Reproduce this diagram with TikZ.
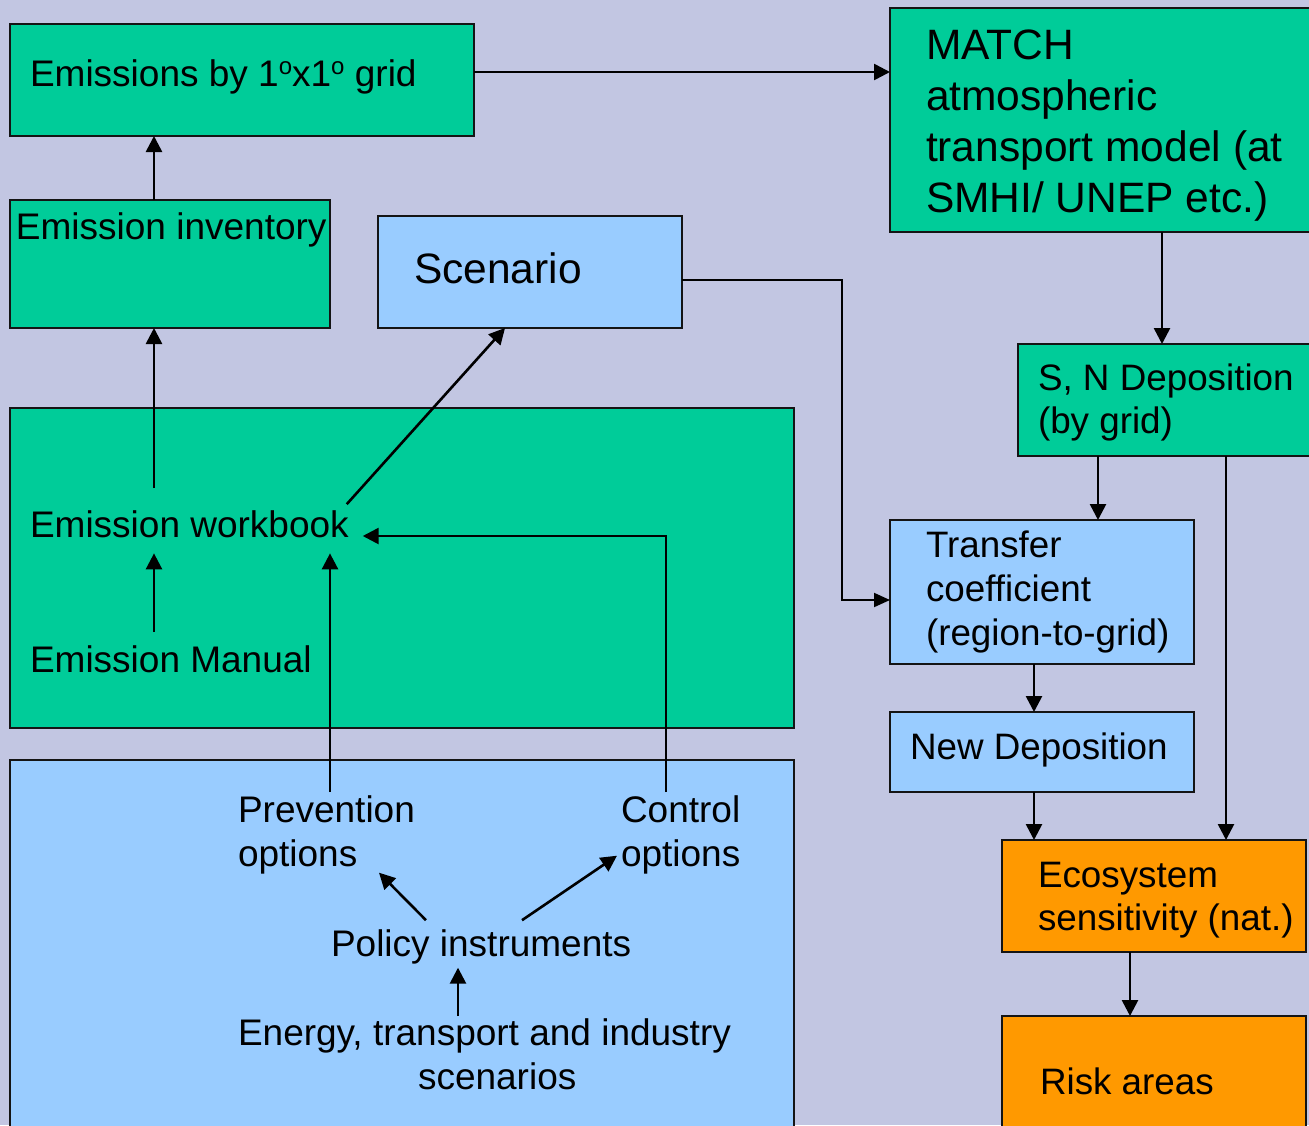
\documentclass[tikz,border=0pt]{standalone}
\usepackage{fontspec}
\setmainfont{Liberation Sans}
\usetikzlibrary{arrows.meta,calc}
\definecolor{bgcol}{RGB}{194,198,226}
\definecolor{boxgreen}{RGB}{0,204,153}
\definecolor{boxblue}{RGB}{153,204,255}
\definecolor{boxorange}{RGB}{255,153,0}
\definecolor{edgecol}{RGB}{20,20,20}
\begin{document}
\begin{tikzpicture}[x=1pt,y=-1pt,
  box/.style={draw=edgecol, line width=1.8pt, inner sep=0pt, outer sep=0pt, anchor=north west},
  gbox/.style={box, fill=boxgreen},
  bbox/.style={box, fill=boxblue},
  obox/.style={box, fill=boxorange},
  lbl/.style={inner sep=0pt, outer sep=0pt, anchor=base west, align=left},
  fbig/.style={font=\fontsize{42.5pt}{51pt}\selectfont},
  fmid/.style={font=\fontsize{37pt}{44pt}\selectfont},
  fright/.style={font=\fontsize{36.8pt}{43pt}\selectfont},
  arr/.style={draw=black, line width=2.6pt, -{Triangle[length=16pt,width=16pt]}},
  arrthin/.style={draw=black, line width=2pt, -{Triangle[length=16pt,width=14pt]}},
]
\useasboundingbox (0,0) rectangle (1309,1125);
\fill[bgcol] (0,0) rectangle (1309,1125);
\clip (0,0) rectangle (1309,1125);

% boxes
\node[gbox, minimum width=464pt, minimum height=112pt] (grid) at (10,24) {};
\node[gbox, minimum width=320pt, minimum height=128pt] (inv) at (10,200) {};
\node[bbox, minimum width=304pt, minimum height=112pt] (scen) at (378,216) {};
\node[gbox, minimum width=784pt, minimum height=320pt] (wbox) at (10,408) {};
\node[bbox, minimum width=784pt, minimum height=390pt] (pbox) at (10,760) {};
\node[gbox, minimum width=440pt, minimum height=224pt] (match) at (890,8) {};
\node[gbox, minimum width=320pt, minimum height=112pt] (sn) at (1018,344) {};
\node[bbox, minimum width=304pt, minimum height=144pt] (tc) at (890,520) {};
\node[bbox, minimum width=304pt, minimum height=80pt] (nd) at (890,712) {};
\node[obox, minimum width=304pt, minimum height=112pt] (eco) at (1002,840) {};
\node[obox, minimum width=304pt, minimum height=140pt] (risk) at (1002,1016) {};

% labels (base anchor of a multi-line label is its last line)
\node[lbl, fmid] (gridtxt) at (30,86) {Emissions by 1\raisebox{12pt}{\fontsize{24pt}{24pt}\selectfont o}x1\raisebox{12pt}{\fontsize{24pt}{24pt}\selectfont o} grid};
\node[lbl, fmid] (invtxt) at (16,239) {Emission inventory};
\node[lbl, fbig] (scentxt) at (414,283) {Scenario};
\node[lbl, fbig] (matchtxt) at (926,212) {MATCH\\atmospheric\\transport model (at\\SMHI/ UNEP etc.)};
\node[lbl, fright] (sntxt) at (1038,433) {S, N Deposition\\(by grid)};
\node[lbl, fright, font=\fontsize{36.8pt}{44pt}\selectfont] (tctxt) at (926,645) {Transfer\\coefficient\\(region-to-grid)};
\node[lbl, fright] (ndtxt) at (910,759) {New Deposition};
\node[lbl, fright] (ecotxt) at (1038,930) {Ecosystem\\sensitivity (nat.)};
\node[lbl, fright] (risktxt) at (1040,1094) {Risk areas};
\node[lbl, fmid] (worktxt) at (30,537) {Emission workbook};
\node[lbl, fmid] (mantxt) at (30,672) {Emission Manual};
\node[lbl, fmid] (prevtxt) at (238,866) {Prevention\\options};
\node[lbl, fmid] (ctrltxt) at (621,866) {Control\\options};
\node[lbl, fmid] (poltxt) at (331,956) {Policy instruments};
\node[lbl, fmid] (enertxt) at (238,1089) {Energy, transport and industry\\\hspace*{180pt}scenarios};

% connector columns
\coordinate (cA) at (154,0);
\coordinate (cB) at (330,0);
\coordinate (cC) at (666,0);
\coordinate (cD) at (458,0);
\coordinate (cE) at (1162,0);
\coordinate (cF) at (1098,0);
\coordinate (cG) at (1226,0);
\coordinate (cH) at (1034,0);
\coordinate (cI) at (1130,0);

% emission chain
\draw[arr] (inv.north -| cA) -- (grid.south -| cA);
\draw[arr] ($(worktxt.north -| cA)+(0,-22)$) -- (inv.south -| cA);
\draw[arr] ($(mantxt.north -| cA)+(0,-13)$) -- ($(worktxt.south -| cA)+(0,16)$);
\draw[arr] ($(worktxt.north east)+(-2,-6)$) -- ($(scen.south)+(-25,0)$);
\draw[arr] ($(prevtxt.north -| cB)+(0,-3)$) -- ($(worktxt.south -| cB)+(0,16)$);
\draw[arr] ($(ctrltxt.north -| cC)+(0,-3)$) |- ($(worktxt.base east)+(14,-1)$);
\draw[arr] ($(poltxt.north west)+(95,-9)$) -- ($(prevtxt.south west)+(141,-1)$);
\draw[arr] ($(poltxt.north west)+(191,-9)$) -- ($(ctrltxt.south west)+(-4,-18)$);
\draw[arr] ($(enertxt.north -| cD)+(0,-2)$) -- ($(poltxt.south -| cD)+(0,4)$);

% deposition chain
\draw[arr] ($(grid.east)+(0,-8)$) coordinate (g1) -- (g1 -| match.west);
\draw[arr] (match.south -| cE) -- (sn.north -| cE);
\draw[arr] (sn.south -| cF) -- (tc.north -| cF);
\draw[arr] (sn.south -| cG) -- (eco.north -| cG);
\draw[arr] (tc.south -| cH) -- (nd.north -| cH);
\draw[arr] (nd.south -| cH) -- (eco.north -| cH);
\draw[arr] (eco.south -| cI) -- (risk.north -| cI);
\draw[arrthin] ($(scen.east)+(0,8)$) -| ($(tc.west)+(-48,8)$) -- ($(tc.west)+(0,8)$);
\end{tikzpicture}
\end{document}
